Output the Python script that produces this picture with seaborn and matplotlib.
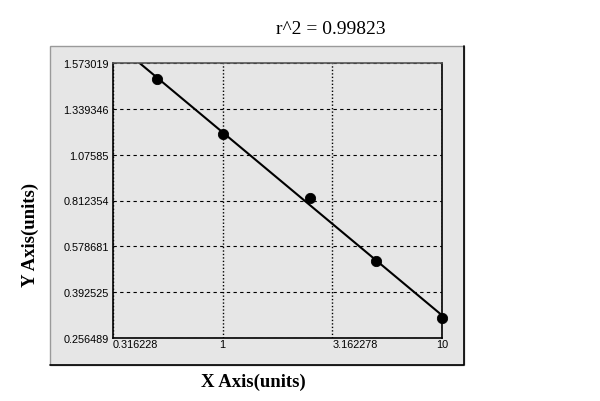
import numpy as np
import seaborn as sns
import matplotlib.pyplot as plt
from matplotlib.patches import Rectangle
from matplotlib.lines import Line2D
from matplotlib.ticker import NullLocator

# standard curve points
conc = [0.5, 1, 2.5, 5, 10]
od = [1.4915, 1.1947, 0.825, 0.519, 0.316]

x_ticks = [0.316228, 1, 3.162278, 10]
x_labels = ["0.316228", "1", "3.162278", "10"]
y_ticks = [0.256489, 0.392525, 0.578681, 0.812354, 1.07585, 1.339346, 1.573019]
y_labels = ["0.256489", "0.392525", "0.578681", "0.812354", "1.07585", "1.339346", "1.573019"]
r2_text = "r^2 = 0.99823"

# the y axis puts its ticks at equal steps, so map values -> tick index
yt = np.array(y_ticks)
idx = np.arange(len(yt), dtype=float)


def extrap(v, xp, fp):
    v = np.asarray(v, dtype=float)
    lo = fp[0] + (v - xp[0]) * (fp[1] - fp[0]) / (xp[1] - xp[0])
    hi = fp[-1] + (v - xp[-1]) * (fp[-1] - fp[-2]) / (xp[-1] - xp[-2])
    return np.where(v < xp[0], lo, np.where(v > xp[-1], hi, np.interp(v, xp, fp)))


def fwd(v):
    return extrap(v, yt, idx)


def inv(v):
    return extrap(v, idx, yt)


# straight-line fit in (log x, axis) space
coef = np.polyfit(np.log10(conc), fwd(od), 1)
fit_x = np.logspace(np.log10(x_ticks[0]), np.log10(x_ticks[-1]), 200)
fit_y = inv(np.polyval(coef, np.log10(fit_x)))

sns.set_style("white")
plt.rcParams['font.family'] = ['Liberation Sans', 'DejaVu Sans']

gray = '#e6e6e6'
fig = plt.figure(figsize=(6, 4.02), dpi=100)
fig.patch.set_facecolor('white')

# grey panel behind the plot
fig.patches.append(Rectangle((50 / 600, 1 - 366 / 402), 414 / 600, 319 / 402,
                             transform=fig.transFigure, facecolor=gray,
                             edgecolor='#9a9a9a', lw=1, zorder=-5))
fig.lines.append(Line2D([464 / 600, 464 / 600, 50 / 600], [1 - 47 / 402, 1 - 366 / 402, 1 - 366 / 402],
                        transform=fig.transFigure, color='black', lw=1.2, zorder=-4))

ax = fig.add_axes([113 / 600, 1 - 339 / 402, (442 - 113) / 600, (339 - 64) / 402])
ax.set_facecolor(gray)
ax.set_xscale('log')
ax.set_yscale('function', functions=(fwd, inv))

sns.lineplot(x=fit_x, y=fit_y, color='black', lw=1.5, ax=ax, sort=False)
sns.scatterplot(x=conc, y=od, s=55, color='black', edgecolor='black', ax=ax,
                zorder=3, clip_on=False)

ax.set_xlim(x_ticks[0], x_ticks[-1])
ax.set_ylim(y_ticks[0], y_ticks[-1])
ax.set_xticks(x_ticks, x_labels)
ax.set_yticks(y_ticks, y_labels)
ax.xaxis.set_minor_locator(NullLocator())
ax.yaxis.set_minor_locator(NullLocator())
ax.tick_params(length=0, labelsize=7.8, colors='black')
ax.tick_params(axis='x', pad=1)
ax.tick_params(axis='y', pad=3)
ha_list = ['left', 'center', 'left', 'center']
for lab, ha in zip(ax.get_xticklabels(), ha_list):
    lab.set_ha(ha)

ax.grid(axis='y', ls=(0, (3, 3)), color='black', lw=0.8)
ax.grid(axis='x', ls=(0, (1, 1.5)), color='black', lw=1)
for s in ax.spines.values():
    s.set_color('black')
    s.set_linewidth(1.2)
ax.spines['top'].set_color('#555555')
ax.set_xlabel('')
ax.set_ylabel('')

serif = ['Liberation Serif', 'DejaVu Serif']
fig.text(331 / 600, 1 - 29 / 402, r2_text, family=serif, fontsize=14,
         color='black', ha='center', va='center')
fig.text(253 / 600, 1 - 382 / 402, 'X Axis(units)', family=serif, fontsize=13.5,
         color='black', fontweight='bold', ha='center', va='center')
fig.text(30 / 600, 1 - 235 / 402, 'Y Axis(units)', family=serif, fontsize=13.5,
         color='black', fontweight='bold', ha='center', va='center', rotation=90)

fig.savefig('out.png', dpi=100)
